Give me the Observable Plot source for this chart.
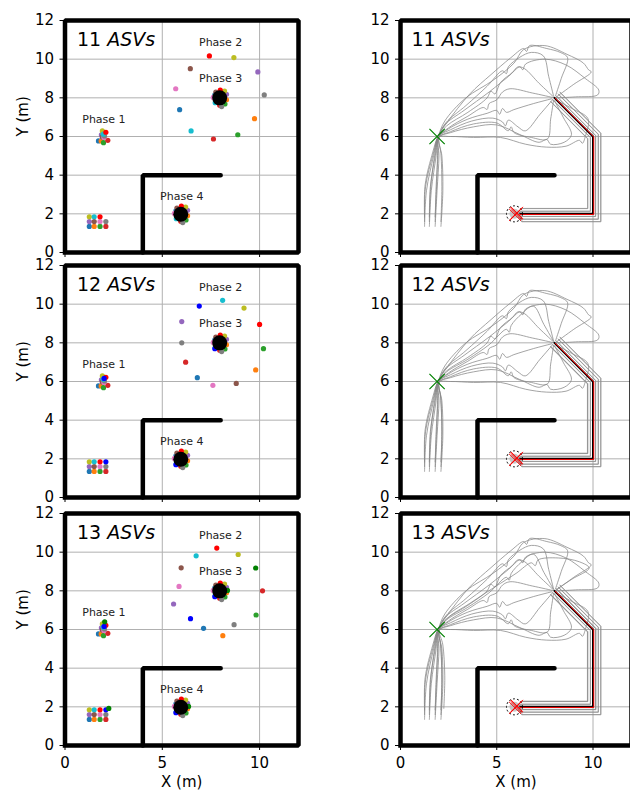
<!DOCTYPE html>
<html><head><meta charset="utf-8">
<script src="https://cdn.jsdelivr.net/npm/d3@7"></script>
<script src="https://cdn.jsdelivr.net/npm/@observablehq/plot@0.6"></script>
<style>
html,body{margin:0;padding:0;background:#fff;overflow:hidden;}
#wrap{position:relative;width:630px;height:791px;overflow:hidden;background:#fff;}
#wrap svg{position:absolute;overflow:visible;}
</style></head><body><div id="wrap"></div>
<script>
// ---------- data ----------
const asvCounts = [11, 12, 13];
const colors = ["#1f77b4","#ff7f0e","#2ca02c","#d62728","#9467bd","#8c564b","#e377c2","#7f7f7f","#bcbd22","#17becf","#ff0000","#0000ff","#008000"];
const xTicks = [0, 5, 10];
const yTicks = [0, 2, 4, 6, 8, 10, 12];
const phaseLabels = ["Phase 1", "Phase 2", "Phase 3", "Phase 4"];
const phaseLabelPos = [[2, 6.87], [8, 10.85], [8, 9.0], [6, 2.9]];
const wallOuter = [[0, 0], [0, 12], [12, 12], [12, 0], [0, 0]];
const wallInner = [[4, 0], [4, 4], [8, 4]];

const initPos = [[1.25,1.35],[1.5,1.35],[1.8,1.35],[2.1,1.35],[1.25,1.6],[1.5,1.6],[1.8,1.6],[2.1,1.6],[1.25,1.85],[1.5,1.85],[1.8,1.85],[2.1,1.85],[2.25,1.92]];
const phase1Pos = [[1.72,5.77],[1.86,5.77],[1.98,5.68],[2.2,5.8],[1.87,6.08],[1.92,5.98],[2.0,5.95],[2.03,6.03],[1.92,6.29],[1.97,6.12],[2.1,6.22],[2.01,6.16],[2.04,6.4]];
const phase2Pos11 = [[5.89,7.39],[9.74,6.92],[8.88,6.09],[7.63,5.87],[9.91,9.34],[6.44,9.51],[5.69,8.47],[10.24,8.15],[8.68,10.08],[6.48,6.29],[7.42,10.17]];
const phase2Pos12 = [[6.8,6.2],[9.8,6.6],[10.2,7.7],[6.2,7.0],[6.0,9.1],[8.8,5.9],[7.6,5.8],[6.0,8.0],[9.2,9.8],[8.1,10.2],[10.0,8.95],[6.9,9.9]];
const phase2Pos13 = [[7.12,6.06],[8.11,5.68],[9.82,6.75],[10.15,8.0],[5.58,7.32],[5.97,9.19],[5.86,8.23],[8.69,6.25],[8.9,9.88],[6.74,9.81],[7.8,10.21],[6.45,6.56],[9.8,9.18]];
const phase2ByRow = [phase2Pos11, phase2Pos12, phase2Pos13];
const phase3Pos = [[7.7,8.15],[8.3,7.9],[8.22,7.68],[7.95,7.62],[8.3,8.18],[7.75,8.3],[7.62,8.02],[8.05,7.55],[8.2,8.35],[7.72,7.75],[7.98,8.4],[7.7,7.7],[8.35,8.02]];
const phase4Pos = [[5.7,2.15],[6.3,1.9],[6.22,1.68],[5.95,1.62],[6.3,2.18],[5.75,2.3],[5.62,2.02],[6.05,1.55],[6.2,2.35],[5.72,1.75],[5.98,2.4],[5.7,1.7],[6.35,2.02]];
const centerPos = [[7.95, 8.0], [5.95, 1.98]];

// trajectories (start -> phase 1 -> phase 2 -> phase 3)
const trajFree = [
  [[1.25,1.35],[1.35,3.2],[1.72,5.0],[1.95,5.95],[2.5,6.4],[3.5,6.9],[4.5,7.2],[5.0,7.35],[5.15,7.15],[5.3,7.45],[5.5,7.25],[5.89,7.39],[6.9,7.7],[7.85,7.95]],
  [[1.5,1.35],[1.6,3.2],[1.85,5.0],[1.97,5.95],[2.6,6.0],[3.8,5.95],[5.2,5.95],[6.5,5.6],[7.6,5.45],[8.6,5.5],[9.3,5.8],[9.45,5.65],[9.6,6.0],[9.74,6.92],[8.9,7.45],[8.05,7.9]],
  [[1.8,1.35],[1.9,3.2],[2.0,5.0],[1.98,5.95],[2.6,6.2],[3.8,6.5],[5.0,6.6],[6.2,6.1],[7.2,5.7],[7.6,5.85],[7.8,5.6],[8.5,5.7],[8.88,6.09],[8.45,7.0],[8.0,7.85]],
  [[2.1,1.35],[2.2,3.2],[2.15,5.0],[2.0,5.95],[2.6,6.25],[3.8,6.65],[5.0,6.7],[5.6,6.3],[5.75,6.5],[5.9,6.2],[6.8,5.95],[7.63,5.87],[7.8,6.9],[7.95,7.85]],
  [[1.25,1.6],[1.3,3.4],[1.7,5.1],[1.95,5.97],[2.3,6.8],[3.4,8.0],[4.8,8.9],[5.9,9.8],[6.4,10.5],[7.5,10.7],[8.65,10.25],[9.5,9.8],[9.77,9.45],[9.91,9.34],[9.0,8.7],[8.1,8.05]],
  [[1.5,1.6],[1.55,3.4],[1.82,5.1],[1.96,5.97],[2.4,6.55],[3.5,7.25],[4.5,8.0],[4.7,8.35],[4.9,8.2],[5.2,8.8],[5.8,9.3],[6.1,9.6],[6.44,9.51],[7.2,8.75],[7.95,8.05]],
  [[1.8,1.6],[1.85,3.4],[1.95,5.1],[1.98,5.97],[2.5,6.45],[3.5,7.05],[4.3,7.5],[4.5,7.4],[4.6,7.7],[5.0,7.9],[5.3,8.3],[5.69,8.47],[6.85,8.25],[7.9,8.02]],
  [[2.1,1.6],[2.15,3.4],[2.1,5.1],[2.0,5.97],[2.3,6.6],[3.3,7.35],[4.6,8.3],[5.6,9.1],[6.2,9.6],[6.35,9.45],[6.5,9.75],[7.5,10.0],[8.6,9.7],[9.6,9.0],[10.3,8.4],[10.24,8.15],[9.1,8.05],[8.1,8.0]],
  [[1.25,1.85],[1.28,3.5],[1.68,5.2],[1.94,6.0],[2.4,6.7],[3.6,8.2],[4.7,9.2],[5.7,10.05],[6.4,10.55],[6.55,10.4],[6.7,10.7],[7.6,10.55],[8.3,10.35],[8.68,10.08],[8.35,9.0],[8.05,8.1]],
  [[1.5,1.85],[1.58,3.5],[1.8,5.2],[1.96,6.0],[2.6,6.35],[3.7,6.8],[4.8,6.95],[5.3,6.75],[5.45,6.55],[5.6,6.85],[6.1,6.5],[6.48,6.29],[7.25,7.15],[7.9,7.9]],
  [[1.8,1.85],[1.88,3.5],[1.93,5.2],[1.98,6.0],[2.35,6.7],[3.4,7.6],[4.5,8.6],[5.3,9.4],[5.5,9.25],[5.6,9.6],[6.2,10.1],[6.8,10.35],[7.42,10.17],[7.7,9.1],[7.95,8.1]],
  [[2.1,1.85],[2.15,3.5],[2.08,5.2],[2.0,6.0],[2.4,6.5],[3.5,7.15],[4.6,7.9],[5.5,8.7],[5.65,8.55],[5.75,8.9],[6.3,9.5],[6.9,9.9],[7.45,8.95],[7.95,8.08]],
  [[2.25,1.92],[2.3,3.6],[2.2,5.2],[2.02,6.0],[2.45,6.6],[3.6,7.35],[4.9,8.2],[6.0,8.9],[6.8,9.45],[7.0,9.3],[7.15,9.6],[8.2,9.7],[9.3,9.5],[9.8,9.18],[8.9,8.6],[8.08,8.06]]
];
// formation trajectories (phase 3 -> phase 4)
const trajForm = [
  [[8.19,8.19],[10.27,6.11],[10.27,1.73],[6.3,1.73],[6.05,1.95]],
  [[7.81,7.81],[9.73,5.89],[9.73,2.27],[6.3,2.27],[6.05,2.05]],
  [[8.09,8.09],[10.13,6.05],[10.13,1.87],[6.3,1.87],[6.05,1.97]],
  [[7.91,7.91],[9.87,5.95],[9.87,2.13],[6.3,2.13],[6.05,2.03]],
  [[8.28,8.28],[10.4,6.17],[10.4,1.6],[6.3,1.6],[6.05,1.92]],
  [[8.0,8.0],[10.0,6.0],[10.0,2.0],[6.3,2.0],[6.05,2.0]],
  [[7.8,7.8],[9.72,5.88],[9.72,2.28],[6.3,2.28],[6.05,2.06]],
  [[8.2,8.2],[10.28,6.12],[10.28,1.72],[6.3,1.72],[6.05,1.94]],
  [[7.9,7.9],[9.86,5.94],[9.86,2.14],[6.3,2.14],[6.05,2.03]],
  [[8.1,8.1],[10.14,6.06],[10.14,1.86],[6.3,1.86],[6.05,1.97]],
  [[8.29,8.29],[10.41,6.17],[10.41,1.59],[6.3,1.59],[6.05,1.92]],
  [[7.79,7.79],[9.71,5.88],[9.71,2.29],[6.3,2.29],[6.05,2.07]],
  [[8.11,8.11],[10.15,6.06],[10.15,1.85],[6.3,1.85],[6.05,1.96]]
];
const refPath = [[8,8],[10,6],[10,2],[5.95,2]];
const followPath = [[8.04,7.98],[10.04,5.98],[10.04,1.97],[6.0,1.97]];
const phase1Goal = [[1.9, 6.0]];
const phase4Goal = [[5.92, 2.0]];
const endMarks = [[6.02, 2.0], [5.95, 1.95], [6.05, 2.05]];

// ---------- layout ----------
const rowFrameTop = [19.5, 264.7, 512.7];
const wrap = document.getElementById("wrap");
const X = d => d[0], Y = d => d[1];
const font = "DejaVu Sans";

function table(list) {
  const out = [];
  list.forEach((tr, i) => tr.forEach(p => out.push({id: i, x: p[0], y: p[1]})));
  return out;
}

function panel(row, side) {
  const n = asvCounts[row];
  const left = side === 0;
  const idx = d3.range(n);
  const marks = [
    Plot.gridX(xTicks, {stroke: "#b0b0b0", strokeOpacity: 1, strokeWidth: 1}),
    Plot.gridY(yTicks, {stroke: "#b0b0b0", strokeOpacity: 1, strokeWidth: 1}),
    Plot.axisY(yTicks, {tickSize: 5, tickPadding: 6, fontSize: 15, label: null, stroke: "black"}),
    Plot.axisX(xTicks, {tickSize: 5, tickPadding: 7, fontSize: 15, label: null, stroke: "black",
      tickFormat: row === 2 ? (d => String(d)) : (() => "")})
  ];
  if (left) {
    marks.push(Plot.text(["Y (m)"], {frameAnchor: "left", rotate: -90, dx: -42, fontSize: 15, fill: "black"}));
  }
  if (row === 2) {
    marks.push(Plot.text(["X (m)"], {frameAnchor: "bottom", dy: 37, fontSize: 15, fill: "black", lineAnchor: "middle"}));
  }
  if (!left) {
    marks.push(Plot.line(table(trajFree.slice(0, n)), {x: "x", y: "y", z: "id", stroke: "#858585", strokeWidth: 0.75, curve: "catmull-rom"}));
    marks.push(Plot.line(table(trajForm.slice(0, n)), {x: "x", y: "y", z: "id", stroke: "#909090", strokeWidth: 0.75}));
    marks.push(Plot.line(refPath, {x: X, y: Y, stroke: "black", strokeWidth: 2}));
    marks.push(Plot.line(followPath, {x: X, y: Y, stroke: "#ff0000", strokeWidth: 1}));
    marks.push(Plot.dot(phase4Goal, {x: X, y: Y, r: 5, fill: "#bbbbbb", fillOpacity: 0.8}));
    marks.push(Plot.dot(phase4Goal, {x: X, y: Y, r: 8, stroke: "black", strokeDasharray: "2,2", fill: "none", strokeWidth: 1}));
    marks.push(Plot.dot(endMarks, {x: X, y: Y, symbol: "times", r: 5.5, stroke: "#ff0000", strokeWidth: 1}));
    marks.push(Plot.dot(phase1Goal, {x: X, y: Y, symbol: "times", r: 7, stroke: "green", strokeWidth: 1.2}));
  }
  marks.push(Plot.line(wallOuter, {x: X, y: Y, stroke: "black", strokeWidth: 4.5, strokeLinejoin: "miter", strokeLinecap: "square"}));
  marks.push(Plot.line(wallInner, {x: X, y: Y, stroke: "black", strokeWidth: 4.5, strokeLinejoin: "miter"}));
  if (left) {
    const dotSet = (pos) => Plot.dot(idx, {x: i => pos[i][0], y: i => pos[i][1], r: 2.6, fill: i => colors[i]});
    marks.push(dotSet(initPos), dotSet(phase1Pos), dotSet(phase2ByRow[row]), dotSet(phase3Pos), dotSet(phase4Pos));
    marks.push(Plot.dot(centerPos, {x: X, y: Y, r: 7.5, fill: "black"}));
    marks.push(Plot.text(phaseLabels, {x: (d, i) => phaseLabelPos[i][0], y: (d, i) => phaseLabelPos[i][1], fontSize: 11, fill: "#222"}));
  }
  marks.push(Plot.text([String(n)], {frameAnchor: "top-left", dx: left ? 12 : 11, dy: 25, lineAnchor: "bottom", textAnchor: "start", fontSize: 19, fill: "black"}));
  marks.push(Plot.text(["ASVs"], {frameAnchor: "top-left", dx: (left ? 12 : 11) + 30.2, dy: 25, lineAnchor: "bottom", textAnchor: "start", fontSize: 19, fontStyle: "italic", fill: "black"}));

  const w = left ? 315 : 296;
  const svg = Plot.plot({
    width: w, height: 302,
    marginLeft: left ? 64.5 : 65, marginRight: left ? 17 : 0,
    marginTop: 20, marginBottom: 50,
    x: {domain: [0, 12]}, y: {domain: [0, 12]},
    style: {background: "transparent", overflow: "visible", fontFamily: font, color: "black"},
    marks
  });
  svg.style.left = (left ? 0 : 335) + "px";
  svg.style.top = (rowFrameTop[row] - 20) + "px";
  wrap.appendChild(svg);
}

for (let r = 0; r < 3; r++) { panel(r, 0); panel(r, 1); }
</script></body></html>
